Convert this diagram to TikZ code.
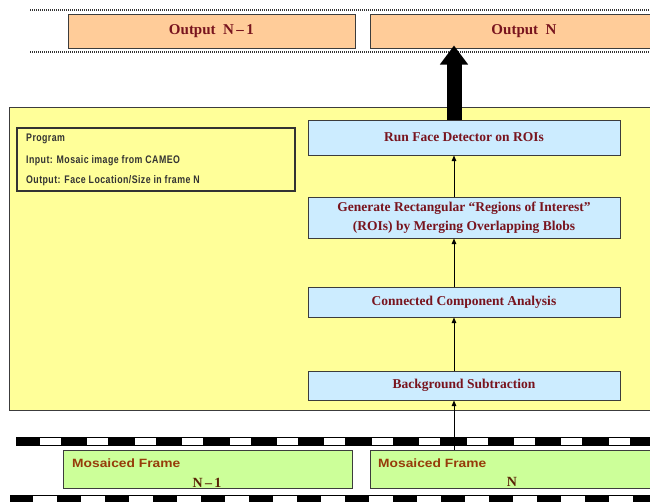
\documentclass[tikz,border=0pt]{standalone}
\usepackage{fontspec}
\setmainfont{Liberation Serif}
\newfontfamily\condfont[FakeStretch=0.8,LetterSpace=4]{Liberation Sans}
\newfontfamily\mosfont[FakeStretch=1.15]{Liberation Sans}
\usetikzlibrary{arrows.meta}
\definecolor{peach}{RGB}{255,204,153}
\definecolor{ylw}{RGB}{255,255,153}
\definecolor{lblue}{RGB}{204,236,255}
\definecolor{lgreen}{RGB}{204,255,153}
\definecolor{txtred}{RGB}{120,20,30}
\definecolor{txtbrown}{RGB}{150,60,10}
\definecolor{edgec}{RGB}{60,60,60}
\tikzset{
  outbox/.style={draw=edgec, line width=1pt, fill=peach, minimum height=34pt, inner sep=0pt,
    font=\fontsize{15}{18}\selectfont\bfseries, text=txtred},
  stepbox/.style={draw=edgec, line width=1pt, fill=lblue, minimum width=312pt, inner sep=0pt,
    font=\fontsize{13.5}{19}\selectfont\bfseries, text=txtred, align=center},
  framebox/.style={draw=edgec, line width=1pt, fill=lgreen, minimum height=38pt, inner sep=0pt},
  moslbl/.style={anchor=west, inner sep=0pt, font=\mosfont\fontsize{12}{14}\selectfont\bfseries, text=txtbrown},
  numlbl/.style={inner sep=0pt, font=\fontsize{14}{16}\selectfont\bfseries, text=txtbrown!60!black},
  proglbl/.style={anchor=west, inner sep=0pt, font=\condfont\fontsize{11}{13}\selectfont\bfseries, text=black!80},
  thinarrow/.style={-{Triangle[length=5.5pt,width=4.5pt]}, line width=1pt, black},
  thickarrow/.style={-{Triangle[length=19pt,width=27pt]}, line width=15pt, black},
  dotline/.style={line width=1.6pt, dash pattern=on 1pt off 1pt, gray!40!black}
}
\begin{document}
\begin{tikzpicture}[x=1pt,y=-1pt]
\clip (0,0) rectangle (650,501);
\fill[white] (0,0) rectangle (650,501);
\coordinate (ax) at (454,0);
% dotted lines
\draw[dotline] (30,10) -- (650,10);
\draw[dotline] (30,52) -- (650,52);
% outputs
\node[outbox, minimum width=287pt] (out1) at (211.5,31) {Output\ \ N\,--\,1};
\node[outbox, minimum width=308pt] (outN) at (524,31) {Output\ \ N};
% program area
\node[draw=edgec, line width=1pt, fill=ylw, minimum width=651pt, minimum height=303pt, inner sep=0pt] (yel) at (334.5,258.5) {};
\node[draw=black!80, line width=1.2pt, minimum width=278pt, minimum height=63pt, inner sep=0pt] (prog) at (156,159.5) {};
\node[proglbl] (p1) at (26,139) {Program};
\node[proglbl] (p2) at (26,161) {Input: Mosaic image from CAMEO};
\node[proglbl] (p3) at (26,181) {Output: Face Location/Size in frame N};
% steps
\node[stepbox, minimum height=35pt] (rf) at (464,137.5) {Run Face Detector on ROIs};
\node[stepbox, minimum height=41pt] (gen) at (464,217.5) {Generate Rectangular ``Regions of Interest''\\(ROIs) by Merging Overlapping Blobs};
\node[stepbox, minimum height=30pt] (cca) at (464,302) {Connected Component Analysis};
\node[stepbox, minimum height=29pt] (bg) at (464,385.5) {Background Subtraction};
\draw[thinarrow] (gen.north -| ax) -- (rf.south -| ax);
\draw[thinarrow] (cca.north -| ax) -- (gen.south -| ax);
\draw[thinarrow] (bg.north -| ax) -- (cca.south -| ax);
\draw[thickarrow, shorten >=-3pt] (rf.north -| ax) -- (outN.south -| ax);
% film strips
\fill[black] (16,437) rectangle (650,446);
\foreach \k in {0,...,13} \fill[white] ({40+47.4*\k},438.3) rectangle ++(21,6.4);
\fill[black] (10,495) rectangle (650,502);
\foreach \k in {0,...,13} \fill[white] ({33+48*\k},495.8) rectangle ++(24,7);
% frames
\node[framebox, minimum width=289pt] (f1) at (207.5,469) {};
\node[framebox, minimum width=284pt] (fN) at (512,469) {};
\node[moslbl] (m1) at (72,463) {Mosaiced Frame};
\node[moslbl] (mN) at (378,463) {Mosaiced Frame};
\node[numlbl] (n1) at (207,483) {N\,--\,1};
\node[numlbl] (nN) at (512,482) {N};
\draw[thinarrow] (fN.north -| ax) -- (bg.south -| ax);
\end{tikzpicture}
\end{document}
